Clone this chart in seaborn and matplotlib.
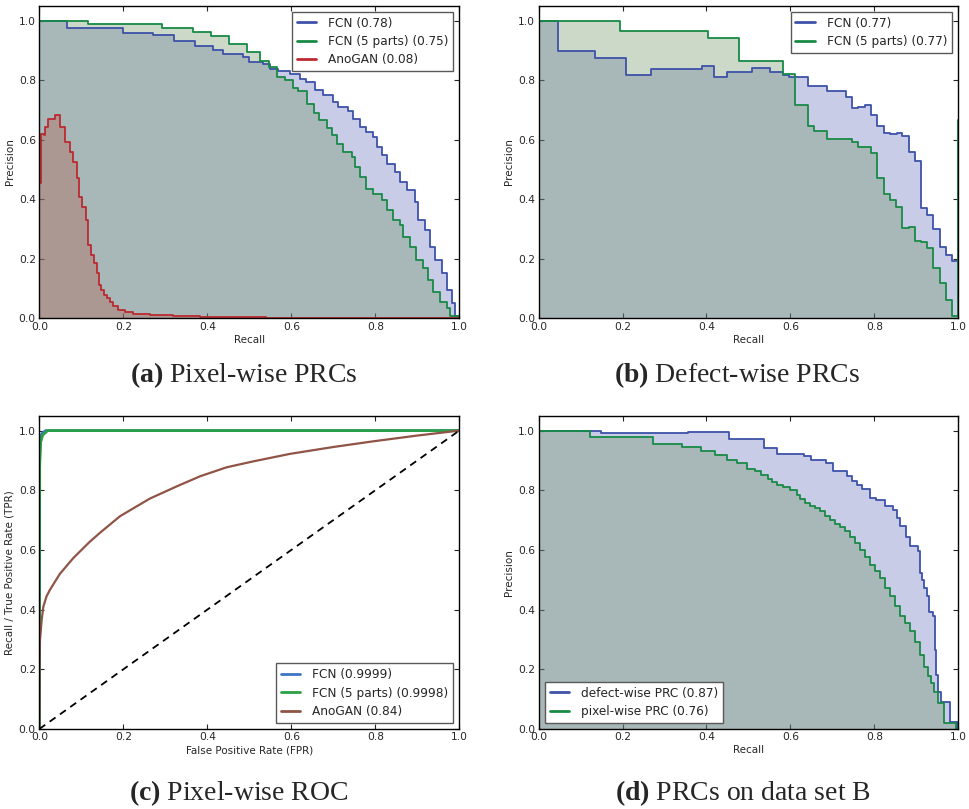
import numpy as np
import pandas as pd
import matplotlib
matplotlib.use("Agg")
import matplotlib.pyplot as plt
import seaborn as sns

# (a) pixel-wise PRCs
a_fcn_recall = [0.0, 0.065, 0.2, 0.271, 0.321, 0.37, 0.414, 0.437, 0.486, 0.5,
                0.533, 0.55, 0.569, 0.597, 0.62, 0.636, 0.656, 0.676, 0.7, 0.712,
                0.736, 0.748, 0.763, 0.779, 0.795, 0.803, 0.815, 0.827, 0.847, 0.859,
                0.875, 0.894, 0.902, 0.918, 0.93, 0.942, 0.958, 0.97, 0.982, 0.99, 1.0]
a_fcn_prec = [1.0, 0.976, 0.96, 0.952, 0.933, 0.914, 0.9, 0.889, 0.878, 0.861,
              0.856, 0.839, 0.83, 0.82, 0.805, 0.794, 0.766, 0.749, 0.727, 0.71,
              0.696, 0.671, 0.643, 0.626, 0.61, 0.576, 0.548, 0.52, 0.492, 0.459,
              0.431, 0.392, 0.33, 0.296, 0.24, 0.196, 0.151, 0.095, 0.05, 0.008, 0.008]
a_fcn5_recall = [0.0, 0.117, 0.291, 0.367, 0.408, 0.451, 0.495, 0.526, 0.548, 0.565,
                 0.585, 0.603, 0.617, 0.637, 0.654, 0.667, 0.684, 0.696, 0.708, 0.724,
                 0.744, 0.752, 0.763, 0.779, 0.795, 0.815, 0.827, 0.843, 0.859, 0.867,
                 0.883, 0.898, 0.914, 0.926, 0.938, 0.954, 0.97, 0.978, 1.0]
a_fcn5_prec = [1.0, 0.989, 0.975, 0.962, 0.947, 0.921, 0.895, 0.864, 0.845, 0.811,
               0.8, 0.775, 0.763, 0.721, 0.69, 0.666, 0.638, 0.615, 0.584, 0.559,
               0.543, 0.509, 0.475, 0.436, 0.419, 0.397, 0.364, 0.33, 0.313, 0.274,
               0.24, 0.196, 0.168, 0.129, 0.089, 0.056, 0.034, 0.008, 0.008]
a_gan_recall = [0.0, 0.003, 0.01, 0.013, 0.021, 0.037, 0.049, 0.061, 0.073, 0.079,
                0.089, 0.095, 0.101, 0.111, 0.117, 0.122, 0.13, 0.137, 0.142, 0.148,
                0.154, 0.16, 0.168, 0.176, 0.188, 0.204, 0.224, 0.263, 0.319, 0.383,
                0.54, 1.0]
a_gan_prec = [0.453, 0.62, 0.615, 0.643, 0.671, 0.682, 0.643, 0.593, 0.559, 0.526,
              0.47, 0.408, 0.375, 0.33, 0.246, 0.213, 0.185, 0.151, 0.112, 0.095,
              0.078, 0.067, 0.056, 0.041, 0.028, 0.02, 0.015, 0.01, 0.007, 0.004,
              0.002, 0.002]

# (b) defect-wise PRCs
b_fcn_recall = [0.0, 0.045, 0.135, 0.209, 0.268, 0.389, 0.418, 0.448, 0.508, 0.551,
                0.583, 0.597, 0.643, 0.688, 0.732, 0.747, 0.762, 0.778, 0.792, 0.807,
                0.823, 0.837, 0.853, 0.867, 0.882, 0.897, 0.911, 0.926, 0.941, 0.956,
                0.971, 0.986, 1.0]
b_fcn_prec = [1.0, 0.899, 0.875, 0.817, 0.837, 0.847, 0.81, 0.828, 0.84, 0.829,
              0.817, 0.811, 0.779, 0.765, 0.745, 0.707, 0.71, 0.715, 0.682, 0.645,
              0.621, 0.619, 0.623, 0.613, 0.559, 0.528, 0.369, 0.347, 0.3, 0.24,
              0.213, 0.194, 0.194]
b_fcn5_recall = [0.0, 0.194, 0.403, 0.478, 0.583, 0.612, 0.643, 0.657, 0.688, 0.747,
                 0.762, 0.792, 0.807, 0.823, 0.837, 0.852, 0.867, 0.882, 0.897, 0.911,
                 0.926, 0.941, 0.956, 0.971, 0.986, 1.0, 1.0]
b_fcn5_prec = [1.0, 0.964, 0.941, 0.866, 0.82, 0.716, 0.647, 0.63, 0.602, 0.591,
               0.576, 0.556, 0.473, 0.417, 0.397, 0.375, 0.305, 0.308, 0.261, 0.257,
               0.237, 0.17, 0.119, 0.062, 0.009, 0.009, 0.665]

# (c) pixel-wise ROC
c_fcn_fpr = [0.0, 0.0005, 0.002, 0.006, 0.015, 1.0]
c_fcn_tpr = [0.0, 0.9, 0.97, 0.99, 1.0, 1.0]
c_fcn5_fpr = [0.0, 0.0008, 0.003, 0.008, 0.02, 1.0]
c_fcn5_tpr = [0.0, 0.88, 0.96, 0.985, 1.0, 1.0]
c_gan_fpr = [0.0, 0.0005, 0.0016, 0.0056, 0.0095, 0.017, 0.025, 0.049, 0.081, 0.119,
             0.144, 0.192, 0.263, 0.327, 0.383, 0.446, 0.51, 0.597, 0.7, 0.795, 0.898, 1.0]
c_gan_tpr = [0.0, 0.2, 0.3, 0.366, 0.41, 0.444, 0.466, 0.52, 0.573, 0.626,
             0.657, 0.713, 0.772, 0.813, 0.847, 0.877, 0.897, 0.922, 0.945, 0.964, 0.983, 1.0]
chance = [0.0, 1.0]

# (d) data set B
d_defect_recall = [0.0, 0.148, 0.357, 0.454, 0.537, 0.569, 0.632, 0.648, 0.685, 0.702,
                   0.734, 0.746, 0.758, 0.77, 0.79, 0.803, 0.825, 0.845, 0.853, 0.861,
                   0.875, 0.886, 0.905, 0.91, 0.914, 0.919, 0.925, 0.93, 0.94, 0.944,
                   0.948, 0.952, 0.958, 0.98, 0.996, 1.0]
d_defect_prec = [1.0, 0.992, 0.994, 0.973, 0.94, 0.923, 0.916, 0.9, 0.892, 0.866,
                 0.849, 0.83, 0.819, 0.805, 0.774, 0.766, 0.746, 0.735, 0.707, 0.681,
                 0.645, 0.612, 0.595, 0.522, 0.5, 0.472, 0.444, 0.392, 0.377, 0.265,
                 0.181, 0.125, 0.092, 0.025, 0.0, 0.025]
d_pixel_recall = [0.0, 0.122, 0.272, 0.341, 0.386, 0.42, 0.45, 0.472, 0.496, 0.515,
                  0.531, 0.547, 0.555, 0.567, 0.583, 0.599, 0.615, 0.623, 0.635, 0.647,
                  0.658, 0.67, 0.682, 0.694, 0.706, 0.718, 0.73, 0.742, 0.754, 0.766,
                  0.778, 0.79, 0.801, 0.813, 0.825, 0.837, 0.849, 0.861, 0.873, 0.885,
                  0.897, 0.909, 0.919, 0.927, 0.936, 0.943, 0.951, 0.966, 0.994, 1.0]
d_pixel_prec = [1.0, 0.979, 0.955, 0.945, 0.933, 0.917, 0.903, 0.892, 0.872, 0.864,
                0.852, 0.839, 0.828, 0.819, 0.811, 0.8, 0.785, 0.772, 0.757, 0.748,
                0.74, 0.729, 0.715, 0.701, 0.688, 0.677, 0.662, 0.643, 0.623, 0.601,
                0.578, 0.55, 0.528, 0.506, 0.472, 0.444, 0.411, 0.377, 0.355, 0.327,
                0.293, 0.248, 0.209, 0.179, 0.153, 0.125, 0.086, 0.019, 0.0, 0.0]

BLUE = "#3d52a8"
GREEN = "#178a45"
RED = "#bb2a30"
BLUE_FILL = "#5864b9"
GREEN_FILL = "#678e58"
RED_FILL = "#b45a4a"

sns.set_style("ticks", {"xtick.direction": "in", "ytick.direction": "in",
                        "axes.edgecolor": "black"})
plt.rcParams["font.family"] = ["DejaVu Sans"]
plt.rcParams["xtick.top"] = True
plt.rcParams["ytick.right"] = True
plt.rcParams["xtick.labelsize"] = 7.7
plt.rcParams["ytick.labelsize"] = 7.7
plt.rcParams["xtick.major.size"] = 3.5
plt.rcParams["ytick.major.size"] = 3.5
plt.rcParams["xtick.major.pad"] = 2.5
plt.rcParams["ytick.major.pad"] = 2.5
plt.rcParams["axes.labelsize"] = 7.5
plt.rcParams["axes.linewidth"] = 1.0
plt.rcParams["mathtext.fontset"] = "custom"
plt.rcParams["mathtext.rm"] = "Liberation Serif"
plt.rcParams["mathtext.bf"] = "Liberation Serif:bold"

fig = plt.figure(figsize=(9.69, 8.09), dpi=100)
ax_a = fig.add_axes([0.0406, 0.6065, 0.4334, 0.3864])
ax_b = fig.add_axes([0.5559, 0.6065, 0.4330, 0.3864])
ax_c = fig.add_axes([0.0406, 0.0989, 0.4334, 0.3873])
ax_d = fig.add_axes([0.5559, 0.0989, 0.4330, 0.3873])


def fill_prc(ax, recall, prec, color):
    ax.fill_between(recall, prec, step="post", color=color, alpha=0.33, lw=0)


def line(ax, x, y, color, label, lw=1.3, steps=True):
    df = pd.DataFrame({"x": x, "y": y})
    sns.lineplot(data=df, x="x", y="y", estimator=None, sort=False,
                 drawstyle="steps-post" if steps else "default",
                 color=color, lw=lw, label=label, ax=ax)


def style(ax, xlabel, ylabel, loc):
    ax.set_xlim(0, 1)
    ax.set_ylim(0, 1.05)
    ax.set_xticks(np.arange(0, 1.01, 0.2))
    ax.set_yticks(np.arange(0, 1.01, 0.2))
    ax.set_xticklabels([f"{v:.1f}" for v in np.arange(0, 1.01, 0.2)])
    ax.set_yticklabels([f"{v:.1f}" for v in np.arange(0, 1.01, 0.2)])
    ax.set_xlabel(xlabel, labelpad=2)
    ax.set_ylabel(ylabel, labelpad=3)
    leg = ax.legend(loc=loc, fontsize=8.7, fancybox=False, framealpha=1,
                    edgecolor="0.35", handlelength=1.6, handletextpad=1.0,
                    labelspacing=0.45, borderaxespad=0.5)
    leg.get_frame().set_linewidth(1.0)
    for l in leg.get_lines():
        l.set_linewidth(2.0)


# (a)
fill_prc(ax_a, a_fcn_recall, a_fcn_prec, BLUE_FILL)
fill_prc(ax_a, a_fcn5_recall, a_fcn5_prec, GREEN_FILL)
fill_prc(ax_a, a_gan_recall, a_gan_prec, RED_FILL)
line(ax_a, a_fcn_recall, a_fcn_prec, BLUE, "FCN (0.78)")
line(ax_a, a_fcn5_recall, a_fcn5_prec, GREEN, "FCN (5 parts) (0.75)")
line(ax_a, a_gan_recall, a_gan_prec, RED, "AnoGAN (0.08)")
style(ax_a, "Recall", "Precision", "upper right")

# (b)
fill_prc(ax_b, b_fcn_recall, b_fcn_prec, BLUE_FILL)
fill_prc(ax_b, b_fcn5_recall, b_fcn5_prec, GREEN_FILL)
line(ax_b, b_fcn_recall, b_fcn_prec, BLUE, "FCN (0.77)")
line(ax_b, b_fcn5_recall, b_fcn5_prec, GREEN, "FCN (5 parts) (0.77)")
style(ax_b, "Recall", "Precision", "upper right")

# (c)
line(ax_c, c_fcn_fpr, c_fcn_tpr, "#3b75c4", "FCN (0.9999)", lw=2, steps=False)
line(ax_c, c_fcn5_fpr, c_fcn5_tpr, "#2ca048", "FCN (5 parts) (0.9998)", lw=2, steps=False)
line(ax_c, c_gan_fpr, c_gan_tpr, "#8f5446", "AnoGAN (0.84)", lw=1.6, steps=False)
ax_c.plot(chance, chance, color="black", ls=(0, (4, 3)), lw=1.3)
style(ax_c, "False Positive Rate (FPR)", "Recall / True Positive Rate (TPR)", "lower right")

# (d)
fill_prc(ax_d, d_defect_recall, d_defect_prec, BLUE_FILL)
fill_prc(ax_d, d_pixel_recall, d_pixel_prec, GREEN_FILL)
line(ax_d, d_defect_recall, d_defect_prec, BLUE, "defect-wise PRC (0.87)")
line(ax_d, d_pixel_recall, d_pixel_prec, GREEN, "pixel-wise PRC (0.76)")
style(ax_d, "Recall", "Precision", "lower left")

cap = dict(ha="center", va="center", fontsize=20, family="Liberation Serif")
fig.text(244 / 969, 1 - 375 / 809, r"$\mathbf{(a)}$ Pixel-wise PRCs", **cap)
fig.text(737 / 969, 1 - 375 / 809, r"$\mathbf{(b)}$ Defect-wise PRCs", **cap)
fig.text(239 / 969, 1 - 793 / 809, r"$\mathbf{(c)}$ Pixel-wise ROC", **cap)
fig.text(743 / 969, 1 - 793 / 809, r"$\mathbf{(d)}$ PRCs on data set B", **cap)

fig.savefig("out.png", dpi=100)
